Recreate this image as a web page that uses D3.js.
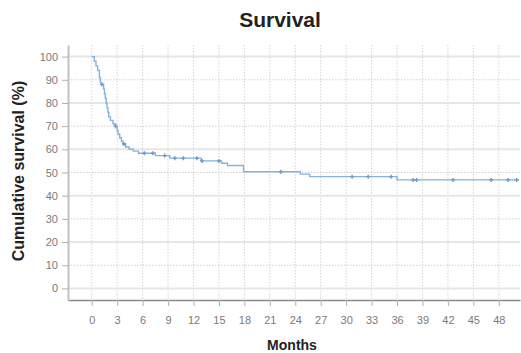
<!DOCTYPE html>
<html>
<head>
<meta charset="utf-8">
<script src="https://cdn.jsdelivr.net/npm/d3@7"></script>
<style>
  body { margin: 0; background: #fff; }
  text { font-family: "Liberation Sans", Arial, sans-serif; }
</style>
</head>
<body>
<div id="chart"></div>
<script>
// Kaplan-Meier steps: time (months) and survival (%) after each event
var stepMonths = [0, 0.3, 0.5, 0.7, 0.9, 1.0, 1.1, 1.4, 1.5, 1.6, 1.7, 1.8, 1.9, 2.0, 2.2, 2.5, 2.8, 3.0, 3.1, 3.3, 3.5, 3.7, 4.0, 4.4, 4.9, 5.5, 7.5, 9.2, 12.9, 15.3, 16.0, 17.9, 24.6, 25.7, 36.0, 50.4];
var stepSurvival = [100, 98, 96, 94, 91, 89, 88, 86, 84, 82, 80, 78, 76, 74, 72.5, 71, 70, 68, 66.5, 65, 63.5, 62.3, 61, 60, 59.2, 58.3, 57.3, 56.2, 55, 54, 53, 50.3, 49.3, 48.2, 46.8, 46.8];

// censored observations
var censorMonths = [1.2, 2.8, 3.8, 6.2, 7.2, 8.6, 9.8, 10.8, 12.4, 13.0, 15.0, 22.3, 30.7, 32.6, 35.3, 37.9, 38.3, 42.6, 47.1, 49.1, 50.1];

var xTicks = [0, 3, 6, 9, 12, 15, 18, 21, 24, 27, 30, 33, 36, 39, 42, 45, 48];
var yTicks = [0, 10, 20, 30, 40, 50, 60, 70, 80, 90, 100];

var svgWidth = 521;
var svgHeight = 353;

var svg = d3.select("#chart")
    .append("svg")
    .attr("width", svgWidth)
    .attr("height", svgHeight);

var xScale = d3.scaleLinear()
    .domain([-2.8, 50.5])
    .range([68, 520]);

var yScale = d3.scaleLinear()
    .domain([-5, 105])
    .range([300, 45]);

// gridlines
svg.append("g").selectAll("line")
    .data(xTicks)
    .enter()
    .append("line")
    .attr("x1", d => xScale(d))
    .attr("x2", d => xScale(d))
    .attr("y1", yScale(105))
    .attr("y2", yScale(-5))
    .attr("stroke", "#d4d4d4")
    .attr("stroke-width", 1)
    .attr("stroke-dasharray", "1.5,1.5");

svg.append("g").selectAll("line")
    .data(yTicks)
    .enter()
    .append("line")
    .attr("x1", xScale(-2.8))
    .attr("x2", xScale(50.5))
    .attr("y1", d => yScale(d))
    .attr("y2", d => yScale(d))
    .attr("stroke", d => d % 20 === 0 ? "#e6e6e6" : "#dcccd0")
    .attr("stroke-width", d => d % 20 === 0 ? 2 : 1)
    .attr("stroke-dasharray", d => d % 20 === 0 ? null : "1.5,1.5");

// axes
var bottomAxis = d3.axisBottom(xScale)
    .tickValues(xTicks)
    .tickSize(6)
    .tickSizeOuter(0);

var leftAxis = d3.axisLeft(yScale)
    .tickValues(yTicks)
    .tickSize(6)
    .tickSizeOuter(0);

var gx = svg.append("g")
    .attr("transform", "translate(0, 300)")
    .call(bottomAxis);
gx.select(".domain").attr("stroke", "#8a8a8a").attr("stroke-width", 1.5);
gx.selectAll(".tick line").attr("stroke", "#b0b0b0");
gx.selectAll(".tick text")
    .attr("y", 16)
    .attr("fill", "#7a7a7a")
    .style("font-size", "11px");

var gy = svg.append("g")
    .attr("transform", "translate(68, 0)")
    .call(leftAxis);
gy.select(".domain").attr("stroke", "#c0c0c0").attr("stroke-width", 2);
gy.selectAll(".tick line").attr("stroke", "#b0b0b0");
gy.selectAll(".tick text")
    .attr("x", -10)
    .attr("fill", "#7a7a7a")
    .style("font-size", "11px");

// survival curve
var steps = stepMonths.map((m, i) => ({ m: m, s: stepSurvival[i] }));

var line = d3.line()
    .x(d => xScale(d.m))
    .y(d => yScale(d.s))
    .curve(d3.curveStepAfter);

svg.append("path")
    .datum(steps)
    .attr("d", line)
    .attr("fill", "none")
    .attr("stroke", "#85b3da")
    .attr("stroke-width", 1.4);

// survival at time t
function survAt(t) {
    var s = 100;
    steps.forEach(function (d) {
        if (d.m <= t) s = d.s;
    });
    return s;
}

// censor marks
svg.append("g").selectAll("path")
    .data(censorMonths)
    .enter()
    .append("path")
    .attr("d", d => {
        var cx = xScale(d), cy = yScale(survAt(d));
        return `M${cx - 2},${cy}H${cx + 2}M${cx},${cy - 2}V${cy + 2}`;
    })
    .attr("stroke", "#6a9bcc")
    .attr("stroke-width", 1.4);

// titles
svg.append("text")
    .attr("x", 280)
    .attr("y", 27)
    .attr("text-anchor", "middle")
    .style("font-size", "21px")
    .style("font-weight", "bold")
    .attr("fill", "#222")
    .text("Survival");

svg.append("text")
    .attr("x", 292)
    .attr("y", 350)
    .attr("text-anchor", "middle")
    .style("font-size", "14px")
    .style("font-weight", "bold")
    .attr("fill", "#222")
    .text("Months");

svg.append("text")
    .attr("transform", "translate(24, 171) rotate(-90)")
    .attr("text-anchor", "middle")
    .style("font-size", "16px")
    .style("font-weight", "bold")
    .attr("fill", "#222")
    .text("Cumulative survival (%)");
</script>
</body>
</html>
